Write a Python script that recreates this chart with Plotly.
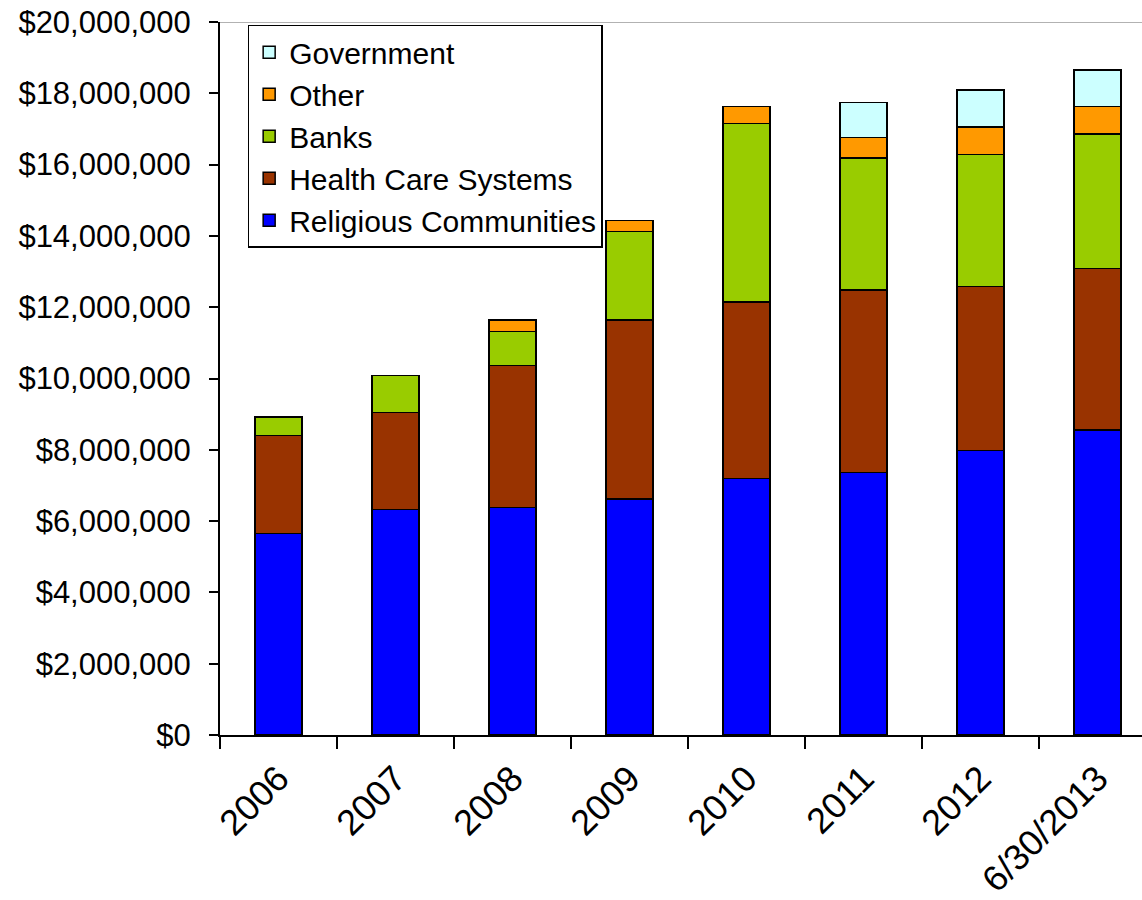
import plotly.graph_objects as go

categories = ["2006", "2007", "2008", "2009", "2010", "2011", "2012", "6/30/2013"]
religious = [5650000, 6320000, 6380000, 6620000, 7200000, 7360000, 7980000, 8560000]
health_care = [2750000, 2730000, 3980000, 5020000, 4950000, 5120000, 4600000, 4530000]
banks = [520000, 1040000, 960000, 2480000, 5010000, 3700000, 3710000, 3770000]
other = [0, 0, 320000, 310000, 470000, 580000, 770000, 770000]
government = [0, 0, 0, 0, 0, 980000, 1030000, 1020000]

series = [
    ("Religious Communities", religious, "#0000FF"),
    ("Health Care Systems", health_care, "#993300"),
    ("Banks", banks, "#99CC00"),
    ("Other", other, "#FF9900"),
    ("Government", government, "#CCFFFF"),
]

FONT = "Liberation Sans, Arial, sans-serif"

fig = go.Figure()
for name, vals, color in series:
    fig.add_trace(go.Bar(
        x=categories, y=vals, name=name,
        marker=dict(color=color, line=dict(color="black", width=1.5)),
        width=0.4,
    ))

fig.update_layout(
    barmode="stack",
    width=1142, height=900,
    margin=dict(l=220, r=0, t=22, b=165, autoexpand=False),
    paper_bgcolor="white", plot_bgcolor="white",
    font=dict(family=FONT, color="black"),
    showlegend=True,
    legend=dict(
        traceorder="reversed",
        x=0.03, y=0.996, xanchor="left", yanchor="top",
        bgcolor="white", bordercolor="black", borderwidth=1.5,
        font=dict(size=30, family=FONT, color="black"),
        tracegroupgap=0,
    ),
    xaxis=dict(
        range=[-0.5, 7.38],
        tickangle=-45,
        tickfont=dict(size=36, family=FONT, color="black"),
        showline=True, linecolor="black", linewidth=2,
        ticks="outside", tickson="boundaries", ticklen=12, tickwidth=1.5, tickcolor="black",
        showgrid=False,
        ticklabelstandoff=6,
        automargin=False,
    ),
    yaxis=dict(
        range=[0, 20000000], dtick=2000000,
        tickprefix="$", tickformat=",d",
        tickfont=dict(size=31, family=FONT, color="black"),
        showline=True, linecolor="black", linewidth=2,
        ticks="outside", ticklen=9, tickwidth=1.5, tickcolor="black",
        showgrid=False, zeroline=False,
        ticklabeloverflow="allow",
        ticklabelstandoff=12,
        automargin=False,
    ),
)

fig.add_shape(type="line", xref="paper", yref="y", x0=0, x1=1, y0=20000000, y1=20000000,
              line=dict(color="#999999", width=1.5))

fig.write_html(
    "out.html",
    config={"displayModeBar": False},
    post_script="document.body.style.margin='0';document.body.style.overflow='hidden';",
)
